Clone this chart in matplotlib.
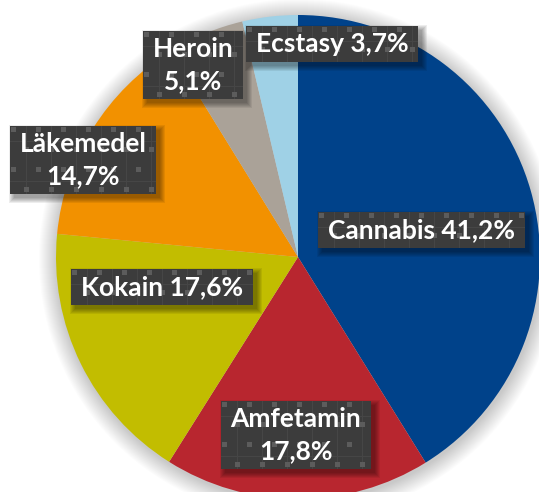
import matplotlib
matplotlib.use('Agg')
import matplotlib.pyplot as plt
from matplotlib.patches import Rectangle, Circle

W, H = 539, 492

labels = ['Cannabis', 'Amfetamin', 'Kokain', 'Läkemedel', 'Heroin', 'Ecstasy']
shares = [41.2, 17.8, 17.6, 14.7, 5.1, 3.7]
colors = ['#00428a', '#b8262f', '#c2bd00', '#f29100', '#aaa298', '#9fd1e6']
two_line = [False, True, False, True, True, False]
# label centres in pixels, measured from the top-left corner
label_xy = [(421, 230), (296, 435), (162, 287), (83, 160), (193, 65), (332, 44)]

plt.rcParams['font.family'] = ['Lato', 'DejaVu Sans']

fig = plt.figure(figsize=(W / 100, H / 100), dpi=100)
ax = fig.add_axes([0, 0, 1, 1])

cx, cy, r = 298, H - 257, 242

# soft glow around the pie
for k in range(18):
    ax.add_patch(Circle((cx + 1, cy - 2), r + 18 - k, fc='black', ec='none',
                        alpha=0.011, zorder=0))

ax.pie(shares, colors=colors, startangle=90, counterclock=False,
       center=(cx, cy), radius=r, wedgeprops=dict(linewidth=0))
ax.set_xlim(0, W)
ax.set_ylim(0, H)
ax.set_aspect('auto')
ax.axis('off')

texts = []
for name, v, two, (x, y) in zip(labels, shares, two_line, label_xy):
    pct = f'{v:.1f}'.replace('.', ',') + '%'
    s = f'{name}\n{pct}' if two else f'{name} {pct}'
    t = ax.text(x, H - y, s, ha='center', va='center', color='white',
                fontsize=19, fontweight='bold', linespacing=1.4, zorder=10)
    texts.append(t)

fig.canvas.draw()
rend = fig.canvas.get_renderer()

for t in texts:
    bb = t.get_window_extent(rend)
    x0, x1 = bb.x0 - 10, bb.x1 + 10
    y0, y1 = bb.y0 - 6, bb.y1 + 6
    w, h = x1 - x0, y1 - y0

    # drop shadow
    for k in range(6):
        ax.add_patch(Rectangle((x0 + 4 - k, y0 - 4 - k), w + 2 * k, h + 2 * k,
                               fc='black', ec='none', alpha=0.07, zorder=5))
    box = Rectangle((x0, y0), w, h, fc='#3c3c3c', ec='none', zorder=6)
    ax.add_patch(box)

    # tiled texture: faint grid plus small light squares
    gx = x0 + 16
    while gx < x1:
        ln, = ax.plot([gx, gx], [y0, y1], color='#464646', lw=0.8, zorder=7)
        ln.set_clip_path(box)
        gx += 25
    gy = y1 - 15
    while gy > y0:
        ln, = ax.plot([x0, x1], [gy, gy], color='#464646', lw=0.8, zorder=7)
        ln.set_clip_path(box)
        gy -= 40
    row = 0
    sy = y1 - 3
    while sy > y0 - 5:
        off = 0 if row % 2 == 0 else 12.5
        sx = x0 + 4 + off
        while sx < x1 + 5:
            sq = Rectangle((sx - 2.5, sy - 2.5), 5, 5, fc='#5c5c5c', ec='none', zorder=8)
            ax.add_patch(sq)
            sq.set_clip_path(box)
            sx += 25
        sy -= 20
        row += 1

fig.savefig('out.png', dpi=100, facecolor='white')
